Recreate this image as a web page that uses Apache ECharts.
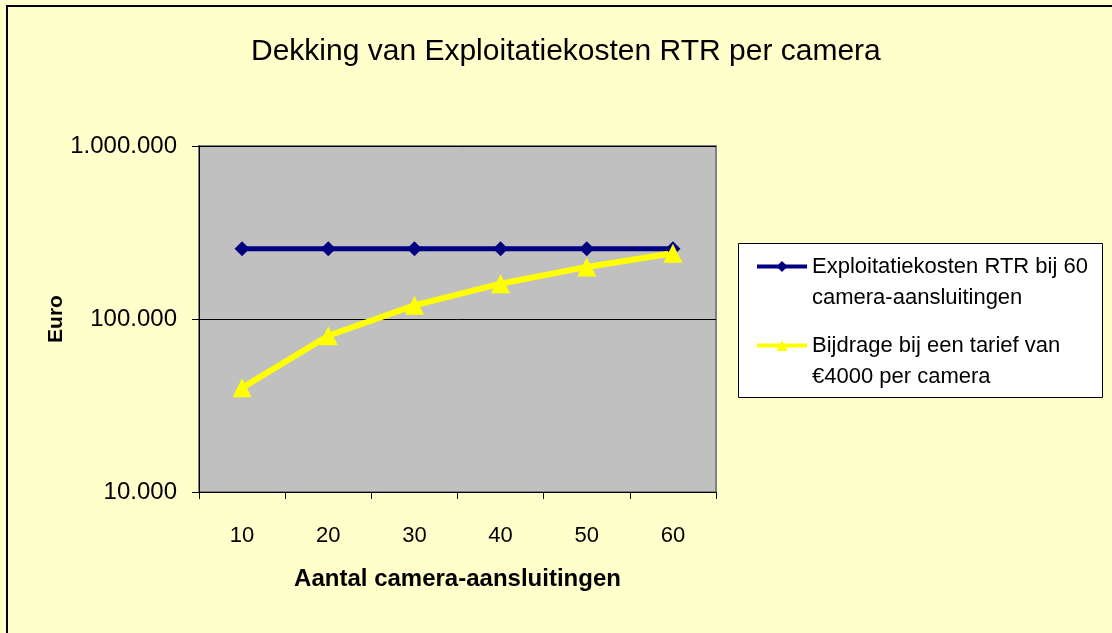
<!DOCTYPE html>
<html>
<head>
<meta charset="utf-8">
<title>Dekking van Exploitatiekosten RTR per camera</title>
<script src="https://cdn.jsdelivr.net/npm/echarts@6/dist/echarts.min.js"></script>
<style>
    html, body { margin: 0; padding: 0; background: #FFFFCC; }
    #chart { width: 1112px; height: 633px; }
</style>
</head>
<body>
<div id="chart"></div>
<script>
// gegevens uit de grafiek
let categories = ['10', '20', '30', '40', '50', '60'];
let kostenRTR = [255000, 255000, 255000, 255000, 255000, 255000];
let bijdrage = [40000, 80000, 120000, 160000, 200000, 240000];
let seriesNames = ['Exploitatiekosten RTR bij 60\ncamera-aansluitingen', 'Bijdrage bij een tarief van\n€4000 per camera'];

let fontFamily = '"Liberation Sans", Arial, sans-serif';

// 1000000 -> 1.000.000
let formatEuro = function (v) {
    return String(Math.round(v)).replace(/\B(?=(\d{3})+(?!\d))/g, '.');
};

let chart = echarts.init(document.getElementById('chart'));
chart.setOption({
    backgroundColor: '#FFFFCC',
    animation: false,
    title: {
        text: 'Dekking van Exploitatiekosten RTR per camera',
        left: 251,
        top: 37,
        padding: 0,
        textStyle: { fontFamily: fontFamily, fontSize: 30, fontWeight: 'normal', color: '#000' }
    },
    graphic: [{
        type: 'rect',
        shape: { x: 7, y: 6, width: 1300, height: 800 },
        style: { fill: 'none', stroke: '#000', lineWidth: 2 },
        silent: true
    }, {
        // witte legendakader
        type: 'rect',
        shape: { x: 738.5, y: 243.5, width: 364, height: 154 },
        style: { fill: '#fff', stroke: '#000', lineWidth: 1 },
        silent: true,
        z: -1
    }],
    legend: {
        orient: 'vertical',
        left: 755,
        top: 220,
        padding: 0,
        itemWidth: 50,
        itemHeight: 14,
        itemGap: -14,
        data: seriesNames,
        lineStyle: { width: 4 },
        // lege eerste regel: icoon staat dan bij de eerste tekstregel
        formatter: function (name) {
            return '\n' + name;
        },
        textStyle: {
            fontFamily: fontFamily,
            fontSize: 22,
            color: '#000',
            lineHeight: 31
        }
    },
    grid: {
        left: 199,
        top: 146,
        right: 396,
        bottom: 141,
        show: true,
        backgroundColor: '#C0C0C0',
        borderColor: '#808080',
        borderWidth: 2
    },
    xAxis: {
        type: 'category',
        data: categories,
        boundaryGap: true,
        name: 'Aantal camera-aansluitingen',
        nameLocation: 'middle',
        nameGap: 75,
        nameTextStyle: { fontFamily: fontFamily, fontSize: 24, fontWeight: 'bold', color: '#000' },
        axisLine: { lineStyle: { color: '#000', width: 1 } },
        axisTick: { show: true, length: 7, interval: 0, lineStyle: { color: '#000' } },
        axisLabel: { fontFamily: fontFamily, fontSize: 22, color: '#000', margin: 33, interval: 0 }
    },
    yAxis: {
        type: 'log',
        logBase: 10,
        min: 10000,
        max: 1000000,
        name: 'Euro',
        nameLocation: 'middle',
        nameGap: 131,
        nameRotate: 90,
        nameTextStyle: { fontFamily: fontFamily, fontSize: 21, fontWeight: 'bold', color: '#000' },
        axisLine: { show: true, lineStyle: { color: '#000', width: 1 } },
        axisTick: { show: true, length: 7, lineStyle: { color: '#000' } },
        minorTick: { show: false },
        splitLine: { show: true, lineStyle: { color: '#000', width: 1 } },
        axisLabel: {
            fontFamily: fontFamily,
            fontSize: 24,
            color: '#000',
            margin: 22,
            formatter: formatEuro
        }
    },
    series: [{
        name: seriesNames[0],
        type: 'line',
        data: kostenRTR,
        symbol: 'diamond',
        symbolSize: 15,
        itemStyle: { color: '#000080' },
        lineStyle: { color: '#000080', width: 5 }
    }, {
        name: seriesNames[1],
        type: 'line',
        data: bijdrage,
        symbol: 'triangle',
        symbolSize: 19,
        itemStyle: { color: '#FFFF00' },
        lineStyle: { color: '#FFFF00', width: 6 }
    }]
});
</script>
</body>
</html>
